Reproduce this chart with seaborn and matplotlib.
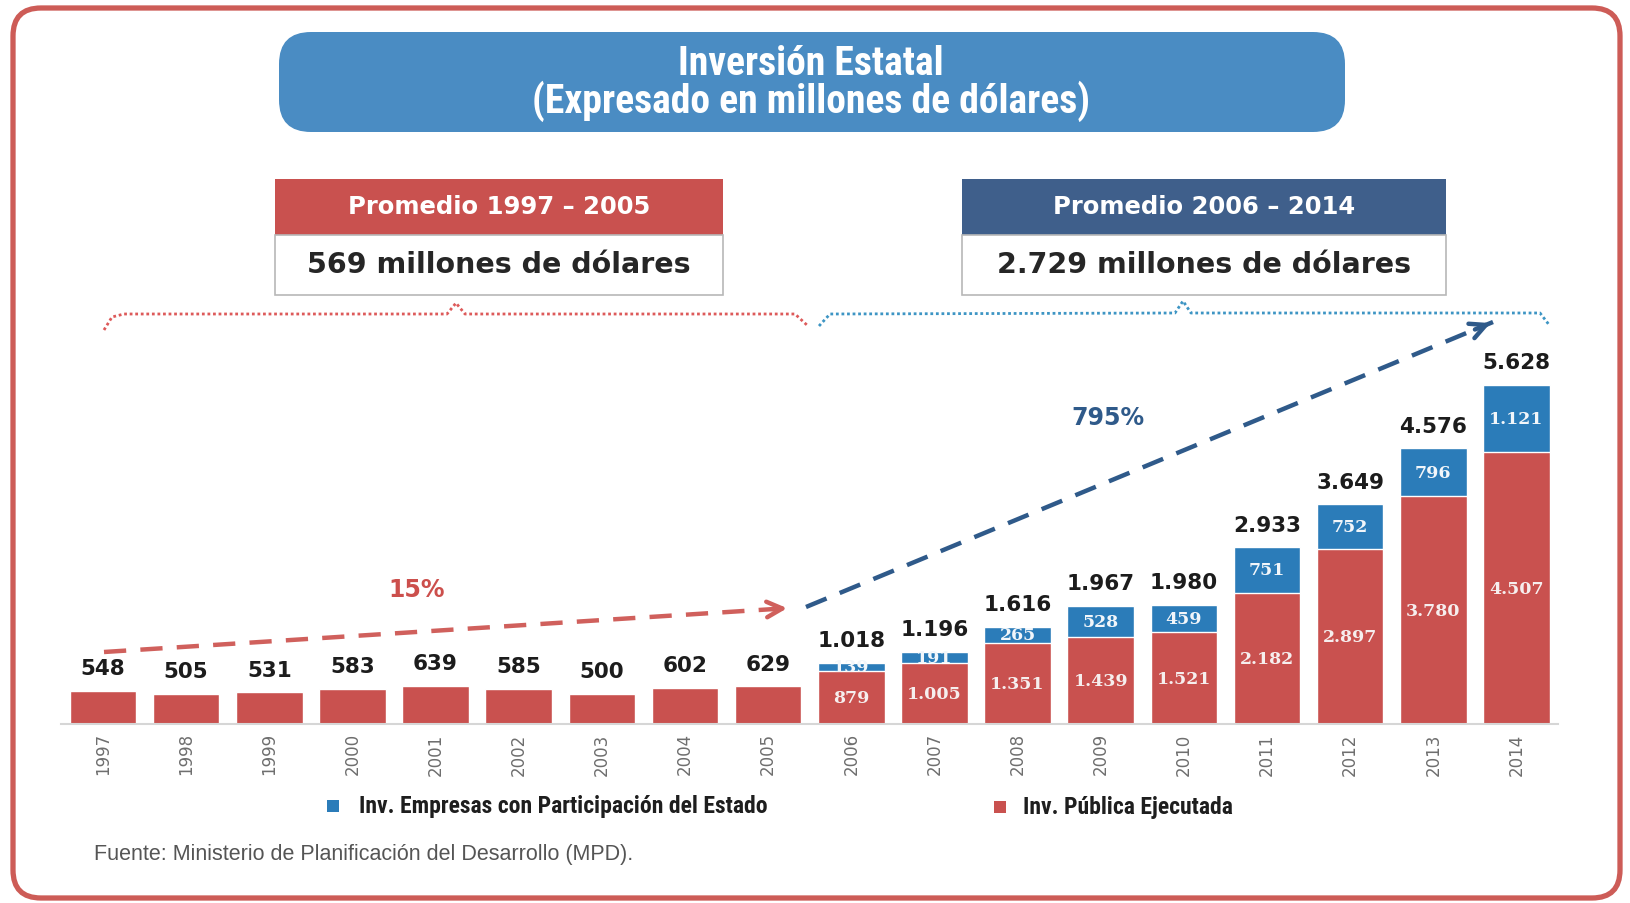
import matplotlib
matplotlib.use("Agg")
import matplotlib.pyplot as plt
from matplotlib.patches import FancyBboxPatch, Rectangle
import pandas as pd
import seaborn as sns

# Datos (millones de dólares)
years = ["1997", "1998", "1999", "2000", "2001", "2002", "2003", "2004", "2005",
         "2006", "2007", "2008", "2009", "2010", "2011", "2012", "2013", "2014"]
publica = [548, 505, 531, 583, 639, 585, 500, 602, 629,
           879, 1005, 1351, 1439, 1521, 2182, 2897, 3780, 4507]
empresas = [0, 0, 0, 0, 0, 0, 0, 0, 0,
            139, 191, 265, 528, 459, 751, 752, 796, 1121]

title_lines = ["Inversión Estatal", "(Expresado en millones de dólares)"]
avg_left = ("Promedio 1997 – 2005", "569 millones de dólares")
avg_right = ("Promedio 2006 – 2014", "2.729 millones de dólares")
growth_left = "15%"
growth_right = "795%"
legend_labels = ["Inv. Empresas con Participación del Estado", "Inv. Pública Ejecutada"]
source = "Fuente: Ministerio de Planificación del Desarrollo (MPD)."

RED = "#c9514f"
BLUE = "#2b7cb9"
TITLE_BLUE = "#4a8cc3"
DARK_BLUE = "#3f5f8b"
BORDER = "#cd5c57"
NARROW = ["Roboto Condensed", "Archivo Narrow", "DejaVu Sans"]


def fmt(v):
    return f"{v:,}".replace(",", ".")


df = pd.DataFrame({"year": years, "publica": publica, "empresas": empresas})
df["total"] = df["publica"] + df["empresas"]

sns.set_theme(style="white")
W, H = 1631, 904
fig = plt.figure(figsize=(W / 100, H / 100), dpi=100)
fig.patch.set_facecolor("white")

# capa de decoración en píxeles (y hacia abajo)
deco = fig.add_axes([0, 0, 1, 1])
deco.set_xlim(0, W)
deco.set_ylim(H, 0)
deco.axis("off")

# marco exterior
deco.add_patch(FancyBboxPatch((13, 9), 1607, 890, boxstyle="round,pad=0,rounding_size=28",
                              fill=False, ec=BORDER, lw=3.8))

# título
deco.add_patch(FancyBboxPatch((279, 33), 1066, 100, boxstyle="round,pad=0,rounding_size=32",
                              fc=TITLE_BLUE, ec="none"))
deco.text(811, 64, title_lines[0], ha="center", va="center", color="white",
          fontsize=28.5, fontweight="bold", family=NARROW)
deco.text(811, 101, title_lines[1], ha="center", va="center", color="white",
          fontsize=28.5, fontweight="bold", family=NARROW)

# cajas de promedio
for (x0, w, head_col, texts) in [(275, 448, RED, avg_left), (962, 484, DARK_BLUE, avg_right)]:
    deco.add_patch(Rectangle((x0, 180), w, 56, fc=head_col, ec="none"))
    deco.add_patch(Rectangle((x0, 236), w, 60, fc="white", ec="#b8b8b8", lw=1.2))
    deco.text(x0 + w / 2, 207, texts[0], ha="center", va="center", color="white",
              fontsize=17.5, fontweight="bold")
    deco.text(x0 + w / 2, 265, texts[1], ha="center", va="center", color="#262626",
              fontsize=20.5, fontweight="bold")

# llaves punteadas
brace_l = [(104, 331), (112, 318), (124, 315), (447, 315), (456, 304), (465, 315),
           (795, 315), (808, 327)]
brace_r = [(819, 327), (830, 315), (1175, 314), (1183, 302), (1191, 314),
           (1540, 314), (1550, 327)]
deco.plot(*zip(*brace_l), color="#dd5a5a", lw=2.0, ls=(0, (1, 1.0)))
deco.plot(*zip(*brace_r), color="#3d95c4", lw=2.0, ls=(0, (1, 1.0)))

# flechas de crecimiento
red_arrow = [(104, 653), (790, 609)]
blue_arrow = [(806, 608), (1493, 323)]
for pts, col in [(red_arrow, "#d0605c"), (blue_arrow, "#2f5a8a")]:
    (xa, ya), (xb, yb) = pts
    deco.plot([xa, xb], [ya, yb], color=col, lw=3.2, dashes=(5, 3.2))
    deco.annotate("", xy=(xb, yb), xytext=(xb - (xb - xa) * 0.03, yb - (yb - ya) * 0.03),
                  arrowprops=dict(arrowstyle="->", color=col, lw=3.2, mutation_scale=28))
deco.text(417, 590, growth_left, ha="center", va="center", color="#cc4f4c",
          fontsize=17, fontweight="bold")
deco.text(1108, 418, growth_right, ha="center", va="center", color="#2f5a8a",
          fontsize=17, fontweight="bold")

# leyenda
deco.add_patch(Rectangle((327, 801), 12, 12, fc=BLUE, ec="none"))
deco.text(359, 807, legend_labels[0], ha="left", va="center", color="#1e1e1e",
          fontsize=17, fontweight="bold", family=NARROW)
deco.add_patch(Rectangle((994, 802), 12, 12, fc=RED, ec="none"))
deco.text(1023, 808, legend_labels[1], ha="left", va="center", color="#1e1e1e",
          fontsize=17, fontweight="bold", family=NARROW)

# fuente
deco.text(94, 855, source, ha="left", va="center", color="#555555", fontsize=15.5,
          family=["Liberation Sans", "DejaVu Sans"])

# gráfico de barras
ax = fig.add_axes([61.4 / W, 179 / H, (1558 - 61.4) / W, 421.7 / H])
ax.patch.set_alpha(0)
sns.barplot(data=df, x="year", y="total", color=BLUE, saturation=1, width=0.8, ax=ax)
sns.barplot(data=df, x="year", y="publica", color=RED, saturation=1, width=0.8, ax=ax)

for i, row in df.iterrows():
    ax.annotate(fmt(row["total"]), (i, row["total"]), xytext=(0, 9), textcoords="offset points",
                ha="center", va="bottom", fontsize=15.5, fontweight="bold", color="#1c1c1c")
    if row["empresas"] > 0:
        ax.text(i, row["publica"] / 2, fmt(row["publica"]), ha="center", va="center",
                color="#f6eeee", fontsize=12.5, fontweight="bold", family="DejaVu Serif")
        ax.text(i, row["publica"] + row["empresas"] / 2, fmt(row["empresas"]), ha="center",
                va="center", color="#f2f6fa", fontsize=12.5, fontweight="bold",
                family="DejaVu Serif")

ax.set_xlim(-0.5, 17.5)
ax.set_ylim(0, 7000)
ax.set_xlabel("")
ax.set_ylabel("")
ax.set_yticks([])
ax.tick_params(axis="x", length=0, pad=6, labelrotation=90, labelcolor="#6e6e6e", labelsize=12)
sns.despine(ax=ax, left=True)
ax.spines["bottom"].set_color("#d6d6d6")
ax.spines["bottom"].set_linewidth(1.5)

fig.savefig("out.png", dpi=100, facecolor="white")
